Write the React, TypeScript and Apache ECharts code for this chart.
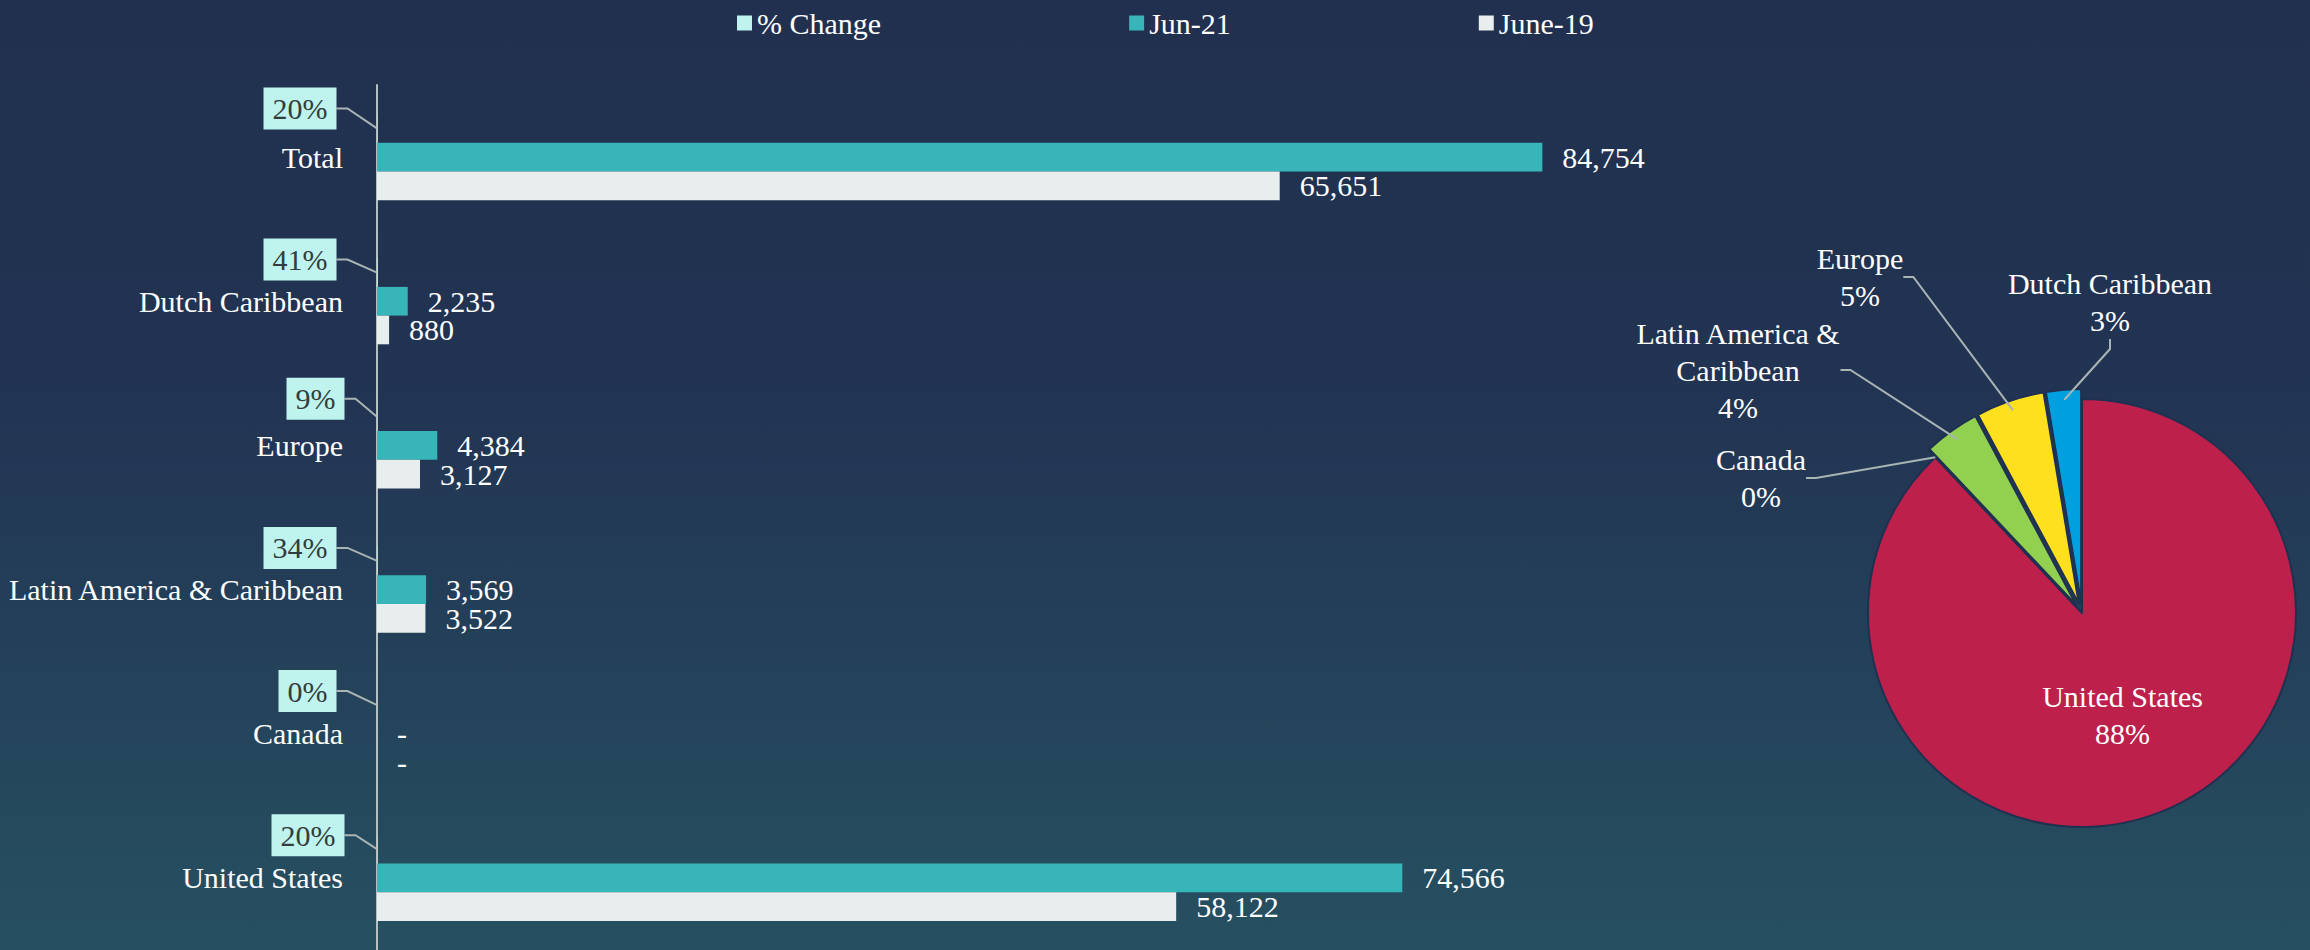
import React, { useEffect, useRef } from 'react';
import * as echarts from 'echarts';

// ---- data ----
const categories = ['Total', 'Dutch Caribbean', 'Europe', 'Latin America & Caribbean', 'Canada', 'United States'];
const jun21 = [84754, 2235, 4384, 3569, 0, 74566];
const jun19 = [65651, 880, 3127, 3522, 0, 58122];
const pctChange = [20, 41, 9, 34, 0, 20];
const seriesNames = ['% Change', 'Jun-21', 'June-19'];
const pieOrder = ['United States', 'Canada', 'Latin America & Caribbean', 'Europe', 'Dutch Caribbean'];

// ---- layout / style (not data) ----
const FONT = 'Liberation Serif';
const BAR_W = 28.7;
const pctLabelDy = [-20, -13, -18, -13, -14, -14];
const pctLabelDist = [40, 40, 32, 40, 40, 32];
const pieLabelPos: Record<string, [number, number]> = {
  'Dutch Caribbean': [2110, 302],
  'Europe': [1860, 277],
  'Latin America & Caribbean': [1738, 370],
  'Canada': [1761, 478],
};
const pieLabelText: Record<string, string> = {
  'Latin America & Caribbean': 'Latin America &\nCaribbean',
};
const pieColors: Record<string, string> = {
  'United States': '#bc204b',
  'Canada': '#a5a5a5',
  'Latin America & Caribbean': '#92d050',
  'Europe': '#ffe01f',
  'Dutch Caribbean': '#00a0e0',
};

export default function App() {
  const ref = useRef<HTMLDivElement>(null);
  useEffect(() => {
    if (!ref.current) return;
    const chart = echarts.init(ref.current, undefined, { renderer: 'svg' });
    const total = jun21.reduce((a, b, i) => (categories[i] === 'Total' ? a : a + b), 0);
    const pieValue = (name: string) => jun21[categories.indexOf(name)];
    const pieShapes = pieOrder.map((name) => ({
      name,
      value: pieValue(name),
      selected: name !== 'United States',
      itemStyle: { color: pieColors[name] },
    }));
    const pieLabels = pieOrder.map((name) => {
      const item: any = { name, value: pieValue(name) };
      if (name === 'United States') item.label = { position: 'inside' };
      return item;
    });
    const valueLabel = {
      show: true,
      position: 'right',
      distance: 20,
      color: '#ffffff',
      fontFamily: FONT,
      fontSize: 30,
      formatter: (p: any) => (p.value === 0 ? '-' : Number(p.value).toLocaleString('en-US')),
    };
    const option: any = {
      animation: false,
      backgroundColor: {
        type: 'linear', x: 0, y: 0, x2: 0, y2: 1,
        colorStops: [
          { offset: 0, color: '#21304f' },
          { offset: 0.42, color: '#223453' },
          { offset: 1, color: '#265061' },
        ],
      },
      textStyle: { fontFamily: FONT },
      legend: {
        data: seriesNames,
        left: 732,
        top: 3,
        itemGap: 248,
        itemWidth: 15,
        itemHeight: 15,
        icon: 'rect',
        textStyle: { color: '#ffffff', fontFamily: FONT, fontSize: 30 },
      },
      grid: { left: 377, top: 85, width: 1375, height: 866, containLabel: false },
      xAxis: { type: 'value', min: 0, max: 100000, show: false },
      yAxis: {
        type: 'category',
        data: categories,
        inverse: true,
        axisLine: { show: true, lineStyle: { color: '#b4c0c2', width: 2 } },
        axisTick: { show: false },
        axisLabel: { color: '#ffffff', fontFamily: FONT, fontSize: 30, margin: 34 },
        splitLine: { show: false },
      },
      series: [
        {
          name: '% Change',
          type: 'bar',
          data: pctChange,
          barWidth: BAR_W,
          barGap: '0%',
          itemStyle: { color: '#bff4ee' },
          label: { show: false },
        },
        {
          name: 'Jun-21',
          type: 'bar',
          data: jun21,
          barWidth: BAR_W,
          barGap: '0%',
          itemStyle: { color: '#38b5b8' },
          label: valueLabel,
        },
        {
          name: 'June-19',
          type: 'bar',
          data: jun19,
          barWidth: BAR_W,
          barGap: '0%',
          itemStyle: { color: '#e8eded' },
          label: valueLabel,
        },
        {
          // callout labels of the % Change bars
          name: '% Change',
          type: 'scatter',
          data: pctChange.map((v, i) => [0, categories[i], v]),
          encode: { x: 0, y: 1 },
          symbol: 'circle',
          symbolSize: 1,
          symbolOffset: [0, -BAR_W],
          itemStyle: { color: 'rgba(0,0,0,0)', opacity: 1 },
          silent: true,
          label: {
            show: true,
            position: 'left',
            distance: 40,
            formatter: (p: any) => `${p.value[2]}%`,
            color: '#333d3d',
            fontFamily: FONT,
            fontSize: 30,
            backgroundColor: '#bff4ee',
            padding: [6, 9, 6, 9],
          },
          labelLayout: (p: any) => ({ dy: pctLabelDy[p.dataIndex], dx: 40 - pctLabelDist[p.dataIndex] }),
          labelLine: { show: true, length2: 11, lineStyle: { color: '#a9b4b4', width: 2, opacity: 1 } },
          emphasis: { disabled: true },
          z: 3,
        },
        {
          name: 'Share',
          type: 'pie',
          center: [2082, 613],
          radius: 214,
          startAngle: 90,
          clockwise: true,
          selectedMode: 'multiple',
          selectedOffset: 10,
          itemStyle: { borderColor: '#1f3050', borderWidth: 2 },
          label: { show: false },
          labelLine: { show: false },
          emphasis: { disabled: true },
          silent: true,
          data: pieShapes,
        },
        {
          name: 'Share labels',
          type: 'pie',
          center: [2082, 613],
          radius: 214,
          startAngle: 90,
          clockwise: true,
          silent: true,
          avoidLabelOverlap: false,
          itemStyle: { color: 'rgba(0,0,0,0)', borderWidth: 0 },
          label: {
            show: true,
            position: 'outside',
            color: '#ffffff',
            fontFamily: FONT,
            fontSize: 30,
            lineHeight: 37,
            align: 'center',
            formatter: (p: any) => `${pieLabelText[p.name] || p.name}\n${Math.round((p.value / total) * 100)}%`,
          },
          labelLine: { show: true, length: 20, length2: 10, lineStyle: { color: '#a9b4b4', width: 2 } },
          labelLayout: (p: any) => {
            const pos = pieLabelPos[pieOrder[p.dataIndex]];
            return pos ? { x: pos[0], y: pos[1], align: 'center', verticalAlign: 'middle' } : {};
          },
          emphasis: { disabled: true },
          z: 4,
          data: pieLabels,
        },
      ],
    };
    chart.setOption(option);
    return () => chart.dispose();
  }, []);
  return (
    <div
      ref={ref}
      style={{ position: 'absolute', left: 0, top: 0, width: 2310, height: 950 }}
    />
  );
}
